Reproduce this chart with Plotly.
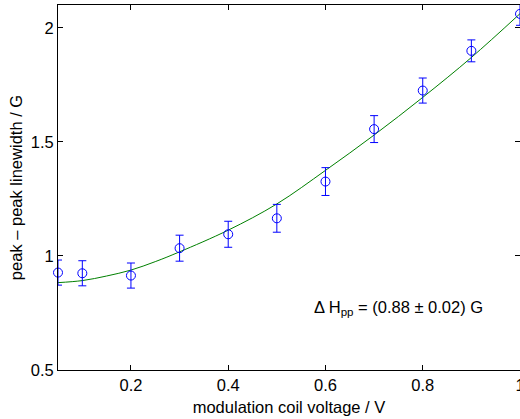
import plotly.graph_objects as go

# measured linewidths
voltage = [0.05, 0.1, 0.2, 0.3, 0.4, 0.5, 0.6, 0.7, 0.8, 0.9, 1.0]
linewidth = [0.927, 0.924, 0.914, 1.034, 1.095, 1.165, 1.326, 1.556, 1.725, 1.899, 2.061]
linewidth_err = [0.055, 0.055, 0.055, 0.057, 0.057, 0.061, 0.061, 0.059, 0.055, 0.048, 0.05]

# fit curve
fit_voltage = [0.05, 0.1, 0.15, 0.2, 0.25, 0.3, 0.4, 0.5, 0.6, 0.7, 0.8, 0.9, 1.0]
fit_linewidth = [0.883, 0.892, 0.912, 0.938, 0.975, 1.018, 1.113, 1.228, 1.375, 1.530, 1.695, 1.870, 2.062]

FONT = "Liberation Sans, Arial, Helvetica, sans-serif"
FS = 16.5

fig = go.Figure()

fig.add_trace(go.Scatter(
    x=fit_voltage, y=fit_linewidth,
    mode="lines",
    line=dict(color="#008000", width=1, shape="spline"),
    showlegend=False,
))

fig.add_trace(go.Scatter(
    x=voltage, y=linewidth,
    mode="markers",
    marker=dict(symbol="circle-open", size=9, color="#0000ff", line=dict(width=1, color="#0000ff")),
    error_y=dict(type="data", array=linewidth_err, color="#0000ff", thickness=1, width=4),
    cliponaxis=False,
    showlegend=False,
))

fig.add_annotation(
    x=0.572, y=0.772, xref="x", yref="y",
    xanchor="left", yanchor="middle",
    text="Δ H<sub>pp</sub> = (0.88 ± 0.02) G",
    showarrow=False,
    font=dict(family=FONT, size=FS, color="black"),
)

axis_style = dict(
    showgrid=False, zeroline=False,
    showline=True, linecolor="black", linewidth=1, mirror="ticks",
    ticks="inside", ticklen=5, tickcolor="black", tickwidth=1,
    tickfont=dict(family=FONT, size=FS, color="black"),
)

fig.update_xaxes(
    range=[0.05, 1.0],
    tickvals=[0.2, 0.4, 0.6, 0.8, 1.0],
    ticktext=["0.2", "0.4", "0.6", "0.8", "1"],
    ticklabeloverflow="allow",
    title=dict(text="modulation coil voltage / V", font=dict(family=FONT, size=FS, color="black"), standoff=8),
    **axis_style,
)
fig.update_yaxes(
    range=[0.5, 2.1],
    tickvals=[0.5, 1.0, 1.5, 2.0],
    ticktext=["0.5", "1", "1.5", "2"],
    title=dict(text="peak – peak linewidth / G", font=dict(family=FONT, size=FS, color="black"), standoff=3),
    **axis_style,
)

fig.update_layout(
    width=520, height=419,
    margin=dict(l=58, r=0, t=5, b=49, autoexpand=False),
    plot_bgcolor="white", paper_bgcolor="white",
    font=dict(family=FONT, size=FS, color="black"),
)

fig.write_html("out.html", config={"displayModeBar": False},
               post_script="document.body.style.margin='0';")
